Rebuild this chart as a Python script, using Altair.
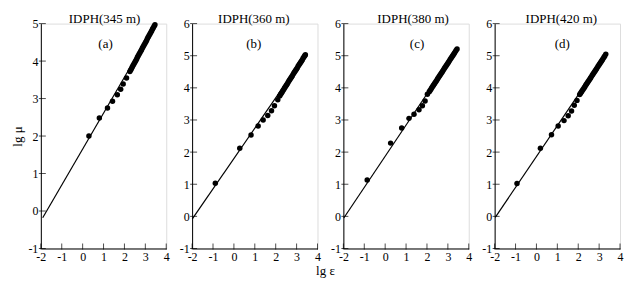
import altair as alt
import pandas as pd

# ---------------- data ----------------
PANEL_TITLES = ["IDPH(345 m)", "IDPH(360 m)", "IDPH(380 m)", "IDPH(420 m)"]
PANEL_LETTERS = ["(a)", "(b)", "(c)", "(d)"]
X_TICKS = [-2, -1, 0, 1, 2, 3, 4]
Y_TICKS_A = [-1, 0, 1, 2, 3, 4, 5]
Y_TICKS_BCD = [-1, 0, 1, 2, 3, 4, 5, 6]

# fitted lines (start and end points)
A_LINE_X = [-1.91, 3.46]
A_LINE_Y = [-0.18, 4.97]
B_LINE_X = [-1.99, 3.42]
B_LINE_Y = [-0.08, 5.03]
C_LINE_X = [-1.98, 3.44]
C_LINE_Y = [-0.05, 5.21]
D_LINE_X = [-1.97, 3.32]
D_LINE_Y = [-0.03, 5.05]

# observed points
A_X = [0.30, 0.80, 1.19, 1.43, 1.66, 1.82, 1.94, 2.10,
       2.26, 2.30, 2.34, 2.38, 2.42, 2.46, 2.50, 2.54, 2.58, 2.62, 2.66, 2.70,
       2.74, 2.78, 2.82, 2.86, 2.90, 2.94, 2.98, 3.02, 3.06, 3.10, 3.14, 3.18,
       3.22, 3.26, 3.30, 3.34, 3.38, 3.42, 3.46]
A_Y = [2.00, 2.48, 2.75, 2.93, 3.10, 3.25, 3.39, 3.55,
       3.72, 3.76, 3.80, 3.85, 3.89, 3.93, 3.97, 4.01, 4.05, 4.10, 4.14, 4.18,
       4.22, 4.26, 4.30, 4.35, 4.39, 4.43, 4.47, 4.51, 4.55, 4.60, 4.64, 4.68,
       4.72, 4.76, 4.80, 4.85, 4.89, 4.93, 4.97]

B_X = [-0.89, 0.28, 0.82, 1.16, 1.40, 1.62, 1.80, 1.94, 2.10,
       2.19, 2.23, 2.27, 2.31, 2.35, 2.39, 2.43, 2.47, 2.51, 2.55, 2.59, 2.63,
       2.67, 2.71, 2.75, 2.79, 2.83, 2.87, 2.91, 2.95, 2.99, 3.03, 3.07, 3.11,
       3.15, 3.19, 3.23, 3.27, 3.31, 3.35, 3.39, 3.42]
B_Y = [1.03, 2.12, 2.53, 2.81, 3.00, 3.14, 3.29, 3.44, 3.63,
       3.75, 3.79, 3.83, 3.87, 3.92, 3.96, 4.00, 4.04, 4.08, 4.12, 4.17, 4.21,
       4.25, 4.29, 4.33, 4.37, 4.42, 4.46, 4.50, 4.54, 4.58, 4.62, 4.67, 4.71,
       4.75, 4.79, 4.83, 4.87, 4.92, 4.96, 5.00, 5.03]

C_X = [-0.86, 0.26, 0.79, 1.14, 1.38, 1.62, 1.78, 1.91, 2.02,
       2.11, 2.15, 2.19, 2.23, 2.27, 2.31, 2.35, 2.39, 2.43, 2.47, 2.51, 2.55,
       2.59, 2.63, 2.67, 2.71, 2.75, 2.79, 2.83, 2.87, 2.91, 2.95, 2.99, 3.03,
       3.07, 3.11, 3.15, 3.19, 3.23, 3.27, 3.31, 3.35, 3.39, 3.44]
C_Y = [1.13, 2.28, 2.75, 3.05, 3.18, 3.32, 3.44, 3.59, 3.80,
       3.88, 3.92, 3.96, 4.00, 4.04, 4.08, 4.12, 4.16, 4.20, 4.24, 4.28, 4.32,
       4.36, 4.40, 4.44, 4.48, 4.52, 4.56, 4.60, 4.64, 4.68, 4.72, 4.76, 4.80,
       4.84, 4.88, 4.92, 4.96, 5.00, 5.04, 5.08, 5.12, 5.16, 5.21]

D_X = [-0.93, 0.19, 0.72, 1.04, 1.32, 1.52, 1.68, 1.81, 1.94,
       2.07, 2.11, 2.15, 2.19, 2.23, 2.27, 2.31, 2.35, 2.39, 2.43, 2.47, 2.51,
       2.55, 2.59, 2.63, 2.67, 2.71, 2.75, 2.79, 2.83, 2.87, 2.91, 2.95, 2.99,
       3.03, 3.07, 3.11, 3.15, 3.19, 3.23, 3.27, 3.32]
D_Y = [1.02, 2.12, 2.54, 2.81, 2.98, 3.13, 3.28, 3.46, 3.61,
       3.79, 3.83, 3.87, 3.91, 3.95, 3.99, 4.03, 4.07, 4.11, 4.15, 4.19, 4.23,
       4.27, 4.31, 4.35, 4.39, 4.43, 4.47, 4.51, 4.55, 4.59, 4.63, 4.67, 4.71,
       4.75, 4.79, 4.83, 4.87, 4.91, 4.95, 4.99, 5.05]

# ---------------- styling ----------------
FONT = "Liberation Serif"
W, H = 126, 226
TITLE_DX = [64, 62, 70, 67]
LETTER_DX = [65, 62, 74, 68]

panels = [
    (A_LINE_X, A_LINE_Y, A_X, A_Y, Y_TICKS_A),
    (B_LINE_X, B_LINE_Y, B_X, B_Y, Y_TICKS_BCD),
    (C_LINE_X, C_LINE_Y, C_X, C_Y, Y_TICKS_BCD),
    (D_LINE_X, D_LINE_Y, D_X, D_Y, Y_TICKS_BCD),
]

label_expr = "replace(datum.label, '\u2212', '-')"
common_axis = dict(tickSize=0, labelPadding=3, labelExpr=label_expr, grid=False,
                   labelFont=FONT, labelFontSize=12, labelColor="black",
                   labelOverlap=False, domainColor="black", domainWidth=1)

charts = []
for i, (lx, ly, px, py, yt) in enumerate(panels):
    xs = alt.Scale(domain=[X_TICKS[0], X_TICKS[-1]], nice=False, zero=False)
    ys = alt.Scale(domain=[yt[0], yt[-1]], nice=False, zero=False)
    xax = alt.Axis(values=X_TICKS, title=None, labelFlush=False, **common_axis)
    if i == 0:
        yax = alt.Axis(values=yt, title="lg \u03bc", titlePadding=3,
                       titleFont=FONT, titleFontSize=13, titleFontWeight="normal",
                       titleColor="black", **common_axis)
    else:
        yax = alt.Axis(values=yt, title=None, **common_axis)

    def X(f):
        return alt.X(f, scale=xs, axis=xax)

    def Y(f):
        return alt.Y(f, scale=ys, axis=yax)

    line = alt.Chart(pd.DataFrame({"x": lx, "y": ly})).mark_line(
        color="black", strokeWidth=1.2
    ).encode(x=X("x:Q"), y=Y("y:Q"))

    pts = alt.Chart(pd.DataFrame({"x": px, "y": py})).mark_circle(
        color="black", opacity=1, size=30
    ).encode(x=X("x:Q"), y=Y("y:Q"))

    xt = alt.Chart(pd.DataFrame({"x": X_TICKS, "y": [yt[0]] * len(X_TICKS)})).mark_tick(
        color="black", orient="vertical", size=6, thickness=1, yOffset=-2
    ).encode(x=X("x:Q"), y=Y("y:Q"))

    ytk = alt.Chart(pd.DataFrame({"y": yt, "x": [X_TICKS[0]] * len(yt)})).mark_tick(
        color="black", orient="horizontal", size=7, thickness=1, xOffset=1.5
    ).encode(y=Y("y:Q"), x=X("x:Q"))

    ttl = alt.Chart(pd.DataFrame({"t": [PANEL_TITLES[i]]})).mark_text(
        font=FONT, fontSize=13, color="black", align="center", baseline="alphabetic"
    ).encode(text="t:N", x=alt.value(TITLE_DX[i]), y=alt.value(-1))

    let = alt.Chart(pd.DataFrame({"t": [PANEL_LETTERS[i]]})).mark_text(
        font=FONT, fontSize=13, color="black", align="center", baseline="middle"
    ).encode(text="t:N", x=alt.value(LETTER_DX[i]), y=alt.value(20.5))

    charts.append(alt.layer(line, pts, xt, ytk, ttl, let).properties(width=W, height=H))

chart = alt.hconcat(*charts, spacing=26, bounds="flush").properties(
    title=alt.TitleParams(text="lg \u03b5", orient="bottom", anchor="middle",
                          font=FONT, fontSize=13, fontWeight="normal", color="black",
                          offset=2, dx=8),
    padding={"left": 3, "top": 3, "right": 2, "bottom": 2},
).configure_view(stroke=None).configure(background="white")

chart.save("out.html", embed_options={"renderer": "svg", "actions": False})
